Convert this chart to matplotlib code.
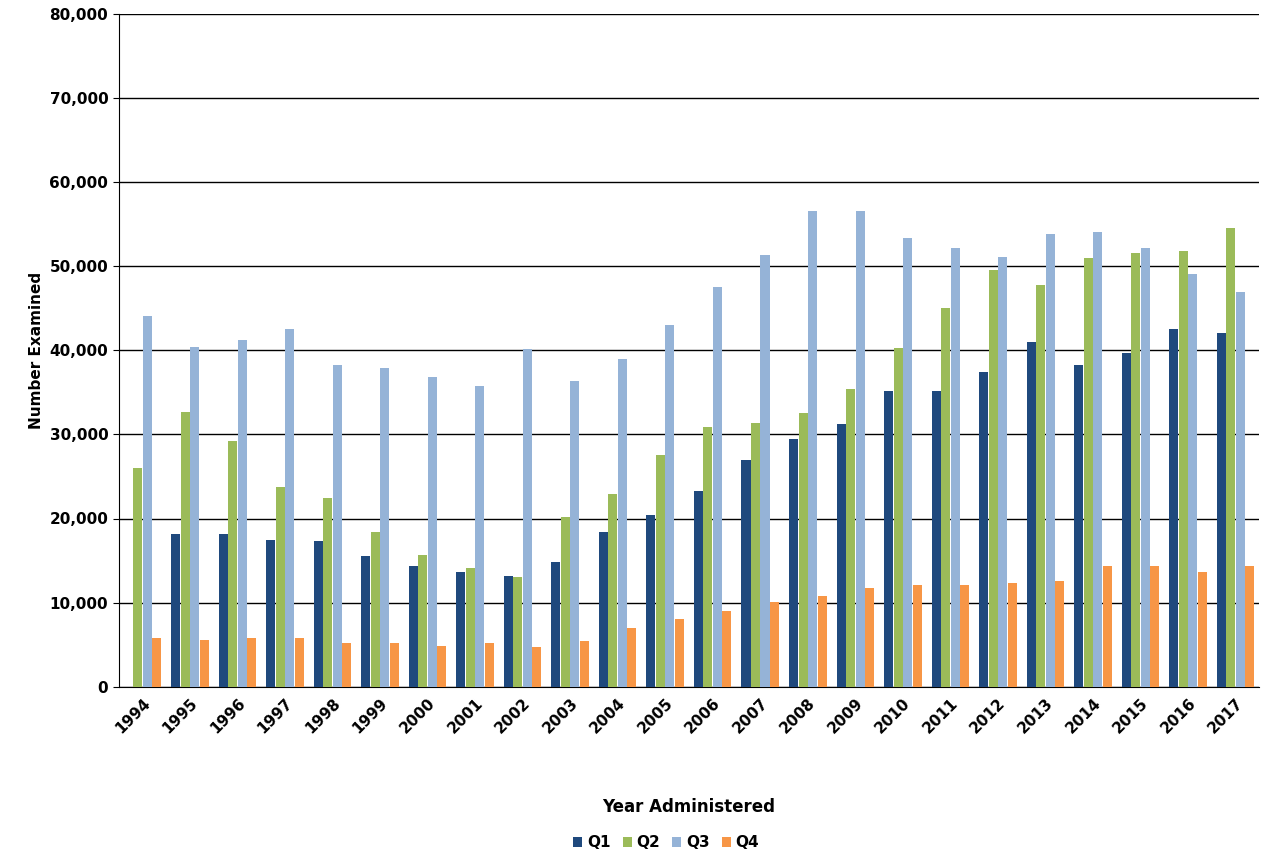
import matplotlib
matplotlib.use("Agg")
import matplotlib.pyplot as plt
import numpy as np

years = [str(y) for y in range(1994, 2018)]
q1 = [0,18200,18200,17500,17300,15500,14300,13700,13200,14800,18400,20400,23300,26900,29400,31200,35200,35200,37400,41000,38300,39700,42500,42100]
q2 = [26000,32700,29200,23800,22400,18400,15700,14100,13000,20200,22900,27600,30900,31400,32500,35400,40300,45000,49500,47700,50900,51600,51800,54500]
q3 = [44100,40400,41200,42500,38300,37900,36800,35800,40200,36300,39000,43000,47500,51300,56500,56500,53300,52200,51100,53800,54000,52200,49000,46900]
q4 = [5800,5600,5800,5800,5200,5200,4900,5200,4700,5400,7000,8100,9000,10100,10800,11700,12100,12100,12300,12600,14300,14300,13700,14300]
series = [("Q1", q1, "#1F497D"), ("Q2", q2, "#9BBB59"), ("Q3", q3, "#95B3D7"), ("Q4", q4, "#F79646")]

fig = plt.figure(figsize=(12.63, 8.5), dpi=100)
ax = fig.add_axes([0.094, 0.192, 0.903, 0.792])
x = np.arange(len(years))
w = 0.19
for i, (name, vals, c) in enumerate(series):
    ax.bar(x + (i - 1.5) * 0.2, vals, w, color=c, label=name, zorder=3)
ax.set_xlim(-0.5, len(years) - 0.5)
ax.set_ylim(0, 80000)
ax.set_yticks(range(0, 80001, 10000))
ax.set_yticklabels([f"{v:,}" for v in range(0, 80001, 10000)], fontsize=11, fontweight="bold")
ax.set_xticks(x)
ax.set_xticklabels(years, rotation=45, ha="right", rotation_mode="anchor", fontsize=11, fontweight="bold")
ax.tick_params(axis="x", length=0, pad=6)
ax.tick_params(axis="y", length=4)
ax.grid(axis="y", color="black", linewidth=1, zorder=0)
for s in ["top", "right"]:
    ax.spines[s].set_visible(False)
ax.set_xlabel("Year Administered", fontsize=12, fontweight="bold", labelpad=45)
ax.set_ylabel("Number Examined", fontsize=11, fontweight="bold")
ax.legend(loc="upper center", bbox_to_anchor=(0.48, -0.2), ncol=4, frameon=False,
          prop={"weight": "bold", "size": 11}, handlelength=0.6, handleheight=0.6, columnspacing=0.8, handletextpad=0.3)
fig.savefig("out.png")
